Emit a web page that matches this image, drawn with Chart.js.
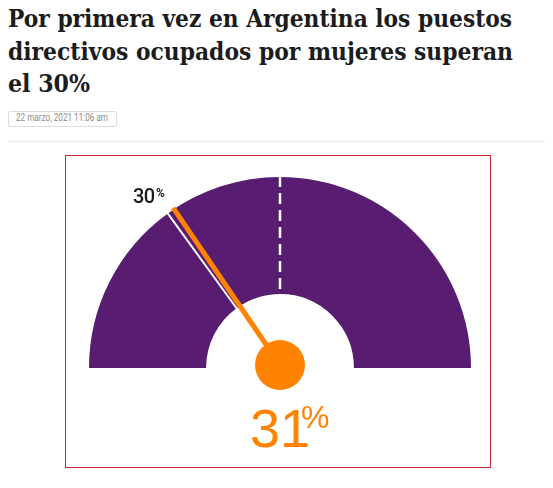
<!DOCTYPE html>
<html>
<head>
<meta charset="utf-8">
<script src="https://cdn.jsdelivr.net/npm/chart.js@4.4.1/dist/chart.umd.min.js"></script>
<style>
  html, body { margin:0; padding:0; background:#fff; width:553px; height:488px; overflow:hidden; }
  .abs { position:absolute; white-space:nowrap; }
  .title { font-family:"DejaVu Serif", serif; font-weight:bold; font-size:25px; line-height:25px; color:#1c1c1c; transform-origin:0 0; }
  #date { position:absolute; left:8px; top:111px; width:107px; height:14px; border:1px solid #dcdcdc; border-radius:2px; }
  #dateText { font-family:Roboto, sans-serif; font-size:10px; line-height:10px; color:#8c8c8c; transform-origin:0 0; }
  #rule { position:absolute; left:8px; top:141px; width:537px; height:1px; background:#ececec; }
  #box { position:absolute; left:65px; top:155px; width:424px; height:311px; border:1px solid #c1272d; }
  #box canvas { position:absolute; left:0; top:0; }
  .sans { font-family:"Liberation Sans", Arial, sans-serif; line-height:1; }
  .rob { font-family:Roboto, sans-serif; font-weight:500; line-height:1; }
</style>
</head>
<body>
<div class="abs title" id="t1" data-w="504" style="left:8px;top:6px;">Por primera vez en Argentina los puestos</div>
<div class="abs title" id="t2" data-w="505" style="left:8px;top:39px;">directivos ocupados por mujeres superan</div>
<div class="abs title" id="t3" data-w="82" style="left:8px;top:71px;">el 30%</div>
<div id="date"></div>
<div class="abs" id="dateText" data-w="92" style="left:16px;top:113px;">22 marzo, 2021 11:06 am</div>
<div id="rule"></div>
<div id="box"><canvas id="c" width="424" height="311" style="width:424px;height:311px;"></canvas></div>
<div class="abs rob" id="mk" style="left:133px;top:186px;font-size:20px;color:#1a1a1a;letter-spacing:-0.5px;"><span id="mkNum"></span></div>
<div class="abs rob" id="mkPct" style="left:156px;top:187px;font-size:12px;font-weight:700;color:#1a1a1a;">%</div>
<div class="abs sans" id="valNum" style="left:250px;top:401px;font-size:54px;color:#ff8200;"></div>
<div class="abs sans" id="valPct" style="left:301px;top:401px;font-size:32px;color:#ff8200;">%</div>
<script>
// ---- data ----
const segmentLabels = ['0-30%', '30-50%', '50-100%'];
const segmentValues = [30, 20, 50];
const markerValue = 30;   // white reference line
const halfValue = 50;     // dashed midpoint line
const needleValue = 31;   // current value

const PURPLE = '#581c71';
const ORANGE = '#ff8200';

// fit title lines to measured widths
document.querySelectorAll('[data-w]').forEach(el => {
  const w = el.getBoundingClientRect().width;
  const target = parseFloat(el.dataset.w);
  el.style.transform = 'scaleX(' + (target / w) + ')';
});
document.getElementById('mkNum').textContent = String(markerValue);
document.getElementById('valNum').textContent = String(needleValue);

const gaugePlugin = {
  id: 'gauge',
  afterDatasetsDraw(chart) {
    const meta = chart.getDatasetMeta(0);
    const arc0 = meta.data[0];
    const cx = arc0.x, cy = arc0.y;
    const R = arc0.outerRadius, r = arc0.innerRadius;
    const total = segmentValues.reduce((a, b) => a + b, 0);
    const start = arc0.startAngle;
    const span = meta.data[meta.data.length - 1].endAngle - start;
    const ang = v => start + (v / total) * span;
    const ctx = chart.ctx;
    ctx.save();
    // white marker line at 30%
    let a = ang(markerValue);
    ctx.strokeStyle = '#ffffff';
    ctx.lineWidth = 2;
    ctx.beginPath();
    ctx.moveTo(cx + (r - 1) * Math.cos(a), cy + (r - 1) * Math.sin(a));
    ctx.lineTo(cx + (R + 1) * Math.cos(a), cy + (R + 1) * Math.sin(a));
    ctx.stroke();
    // dashed line at 50%
    a = ang(halfValue);
    ctx.lineWidth = 2.5;
    ctx.setLineDash([11, 6]);
    ctx.lineDashOffset = 0;
    ctx.beginPath();
    ctx.moveTo(cx + (R + 1) * Math.cos(a), cy + (R + 1) * Math.sin(a));
    ctx.lineTo(cx + (r - 1) * Math.cos(a), cy + (r - 1) * Math.sin(a));
    ctx.stroke();
    ctx.setLineDash([]);
    // needle
    a = ang(needleValue);
    const hx = cx, hy = cy - 3;
    ctx.strokeStyle = ORANGE;
    ctx.lineWidth = 5;
    ctx.beginPath();
    ctx.moveTo(hx, hy);
    ctx.lineTo(hx + (R - 1) * Math.cos(a), hy + (R - 1) * Math.sin(a));
    ctx.stroke();
    ctx.fillStyle = ORANGE;
    ctx.beginPath();
    ctx.arc(hx, hy, 25, 0, Math.PI * 2);
    ctx.fill();
    ctx.restore();
  }
};

new Chart(document.getElementById('c'), {
  type: 'doughnut',
  data: {
    labels: segmentLabels,
    datasets: [{
      data: segmentValues,
      backgroundColor: PURPLE,
      borderWidth: 0,
      hoverOffset: 0
    }]
  },
  options: {
    responsive: false,
    animation: false,
    rotation: -90,
    circumference: 180,
    cutout: '38.7%',
    layout: { padding: { left: 23, right: 19, top: 21, bottom: 99 } },
    plugins: { legend: { display: false }, tooltip: { enabled: false } },
    events: []
  },
  plugins: [gaugePlugin]
});
</script>
</body>
</html>
